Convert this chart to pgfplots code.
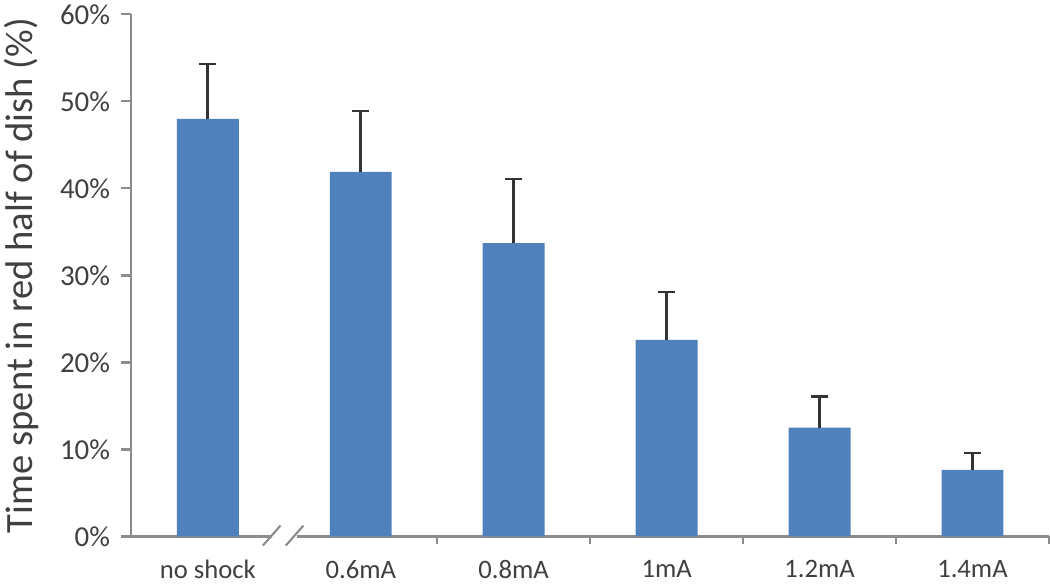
\documentclass[border=0pt]{standalone}
\usepackage{pgfplots}
\pgfplotsset{compat=1.18}
\usepackage{fontspec}
\setmainfont{Carlito}
\definecolor{barblue}{HTML}{4F81BD}
\definecolor{axgray}{HTML}{8C8C8C}
\definecolor{txt}{HTML}{404040}
\definecolor{errgray}{HTML}{333333}
\begin{document}
\begin{tikzpicture}
\begin{axis}[
  scale only axis, width=689pt, height=392pt,
  xmin=-0.5, xmax=5.5, ymin=0, ymax=60,
  axis x line=bottom, axis y line=left,
  axis line style={-, axgray, line width=1.6pt},
  ybar, bar width=46.5pt,
  xtick={0,...,5},
  xticklabels={no shock,0.6mA,0.8mA,1mA,1.2mA,1.4mA},
  major x tick style={draw=none},
  minor xtick={1.5,2.5,3.5,4.5,5.5},
  minor x tick style={axgray, line width=1.6pt},
  minor tick length=6pt,
  ytick={0,10,20,30,40,50,60},
  yticklabels={0\%,10\%,20\%,30\%,40\%,50\%,60\%},
  major y tick style={axgray, line width=1.6pt},
  tick align=outside, major tick length=7.5pt,
  xticklabel style={font=\fontsize{20}{22}\selectfont, text=txt, yshift=-7pt},
  yticklabel style={font=\fontsize{21.7}{24}\selectfont, text=txt, xshift=-5pt},
  ylabel={Time spent in red half of dish (\%)},
  ylabel style={font=\fontsize{29}{32}\selectfont, text=txt, yshift=9pt},
  clip=false,
]
\addplot[fill=barblue, draw=none,
  error bars/.cd, y dir=plus, y explicit,
  error bar style={line width=2pt, color=errgray},
  error mark options={rotate=90, mark size=6.5pt, line width=2pt, color=errgray}]
  coordinates {
  (0,48.0) +- (0,6.3)
  (1,41.9) +- (0,7.0)
  (2,33.7) +- (0,7.4)
  (3,22.6) +- (0,5.5)
  (4,12.5) +- (0,3.6)
  (5,7.65) +- (0,1.95)
  };
\coordinate (w1) at (axis cs:0.42,-0.6);
\coordinate (w2) at (axis cs:0.58,0.6);
\coordinate (s1a) at (axis cs:0.36,-1.05);
\coordinate (s1b) at (axis cs:0.475,1.25);
\coordinate (s2a) at (axis cs:0.51,-1.05);
\coordinate (s2b) at (axis cs:0.625,1.25);
\end{axis}
\fill[white] (w1) rectangle (w2);
\draw[axgray, line width=1.6pt] (s1a) -- (s1b);
\draw[axgray, line width=1.6pt] (s2a) -- (s2b);
\end{tikzpicture}
\end{document}
